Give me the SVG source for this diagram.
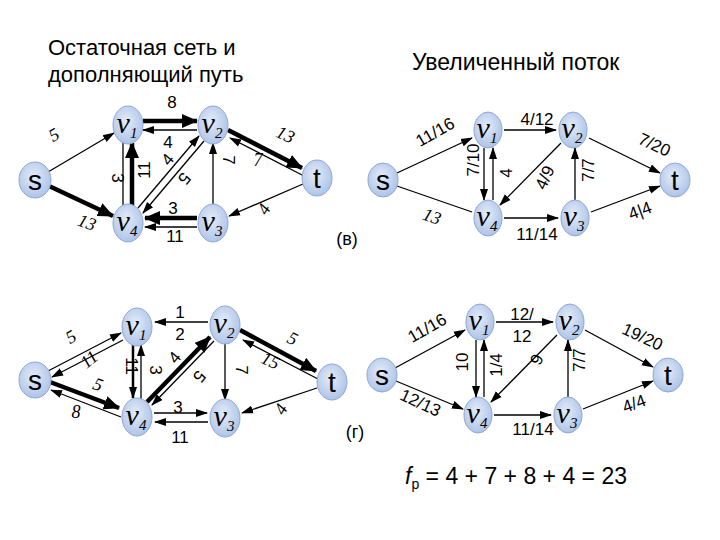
<svg xmlns="http://www.w3.org/2000/svg" width="720" height="540" viewBox="0 0 720 540">
<defs>
<radialGradient id="g" cx="45%" cy="40%" r="65%"><stop offset="0" stop-color="#e4ecf9"/><stop offset="1" stop-color="#a9c0e6"/></radialGradient>
<marker id="a" markerUnits="userSpaceOnUse" markerWidth="12" markerHeight="10" refX="11" refY="5" orient="auto"><path d="M0,1 L12,5 L0,9 Z" fill="#000"/></marker>
<marker id="b" markerUnits="userSpaceOnUse" markerWidth="16" markerHeight="14" refX="15" refY="7" orient="auto"><path d="M0,0 L16,7 L0,14 Z" fill="#000"/></marker>
</defs>
<style>
.n{fill:url(#g);stroke:#8ea8d4;stroke-width:1}
.v{font-family:"Liberation Serif",serif;font-style:italic;font-size:30px;text-anchor:middle}
.v tspan{font-size:15px}
.st{font-family:"Liberation Sans",sans-serif;font-size:28px;text-anchor:middle}
.e line{stroke:#000;stroke-width:1.3}
.e .k{stroke-width:4.5}
.l{font-family:"Liberation Sans",sans-serif;font-size:17px;text-anchor:middle}
.i{font-family:"Liberation Serif",serif;font-style:italic;font-size:18px;text-anchor:middle}
.h{font-family:"Liberation Sans",sans-serif;font-size:22px}
</style>
<text class="h" x="48" y="55">Остаточная сеть и</text>
<text class="h" x="48" y="82">дополняющий путь</text>
<text class="h" x="412" y="70" style="font-size:23px">Увеличенный поток</text>
<text class="l" x="347" y="245" style="font-size:18px">(в)</text>
<text class="l" x="355" y="438" style="font-size:18px">(г)</text>
<text class="h" x="405" y="484" style="font-size:23px"><tspan font-style="italic">f</tspan><tspan font-size="14" dy="5">p</tspan><tspan dy="-5"> = 4 + 7 + 8 + 4 = 23</tspan></text>

<g id="connectors" class="e">
<!-- top-left -->
<line x1="48" y1="172" x2="114" y2="133" marker-end="url(#a)"/>
<line class="k" x1="49" y1="186" x2="113" y2="216" marker-end="url(#b)"/>
<line class="k" x1="143" y1="121" x2="197" y2="121" marker-end="url(#b)"/>
<line x1="197" y1="130" x2="143" y2="130" marker-end="url(#a)"/>
<line x1="123" y1="142" x2="123" y2="206"/>
<line class="k" x1="132" y1="206" x2="132" y2="143" marker-end="url(#b)"/>
<line x1="138" y1="208" x2="199" y2="136" marker-end="url(#a)"/>
<line x1="204" y1="141" x2="143" y2="213" marker-end="url(#a)"/>
<line x1="213" y1="205" x2="213" y2="143" marker-end="url(#a)"/>
<line class="k" x1="228" y1="130" x2="302" y2="168" marker-end="url(#b)"/>
<line x1="304" y1="176" x2="230" y2="138" marker-end="url(#a)"/>
<line x1="303" y1="184" x2="229" y2="216" marker-end="url(#a)"/>
<line class="k" x1="197" y1="218" x2="145" y2="218" marker-end="url(#b)"/>
<line x1="197" y1="227" x2="145" y2="227" marker-end="url(#a)"/>
<!-- top-right -->
<line x1="397" y1="173" x2="472" y2="138" marker-end="url(#a)"/>
<line x1="397" y1="186" x2="472" y2="212"/>
<line x1="504" y1="130" x2="556" y2="130" marker-end="url(#a)"/>
<line x1="484" y1="148" x2="484" y2="200" marker-end="url(#a)"/>
<line x1="493" y1="200" x2="493" y2="148" marker-end="url(#a)"/>
<line x1="561" y1="143" x2="500" y2="205" marker-end="url(#a)"/>
<line x1="575" y1="200" x2="575" y2="148" marker-end="url(#a)"/>
<line x1="589" y1="138" x2="660" y2="173" marker-end="url(#a)"/>
<line x1="504" y1="218" x2="558" y2="218" marker-end="url(#a)"/>
<line x1="591" y1="212" x2="660" y2="186" marker-end="url(#a)"/>
<!-- bottom-left -->
<line x1="48" y1="371" x2="121" y2="333" marker-end="url(#a)"/>
<line x1="123" y1="340" x2="52" y2="377" marker-end="url(#a)"/>
<line class="k" x1="50" y1="382" x2="119" y2="408" marker-end="url(#b)"/>
<line x1="121" y1="417" x2="51" y2="390" marker-end="url(#a)"/>
<line x1="208" y1="322" x2="155" y2="322" marker-end="url(#a)"/>
<line x1="133" y1="345" x2="133" y2="398" style="stroke-width:2.5" marker-end="url(#a)"/>
<line x1="141" y1="400" x2="141" y2="345" marker-end="url(#a)"/>
<line class="k" x1="147" y1="402" x2="210" y2="337" marker-end="url(#b)"/>
<line x1="214" y1="341" x2="152" y2="405" marker-end="url(#a)"/>
<line x1="225" y1="343" x2="225" y2="400" marker-end="url(#a)"/>
<line class="k" x1="240" y1="330" x2="316" y2="371" marker-end="url(#b)"/>
<line x1="318" y1="379" x2="243" y2="340" marker-end="url(#a)"/>
<line x1="317" y1="388" x2="242" y2="413" marker-end="url(#a)"/>
<line x1="154" y1="413" x2="207" y2="413" marker-end="url(#a)"/>
<line x1="208" y1="422" x2="155" y2="422" marker-end="url(#a)"/>
<!-- bottom-right -->
<line x1="395" y1="368" x2="465" y2="330" marker-end="url(#a)"/>
<line x1="396" y1="381" x2="463" y2="409" marker-end="url(#a)"/>
<line x1="496" y1="322" x2="553" y2="322" marker-end="url(#a)"/>
<line x1="476" y1="340" x2="476" y2="397" marker-end="url(#a)"/>
<line x1="484" y1="397" x2="484" y2="340" marker-end="url(#a)"/>
<line x1="557" y1="335" x2="491" y2="402" marker-end="url(#a)"/>
<line x1="568" y1="397" x2="568" y2="340" marker-end="url(#a)"/>
<line x1="585" y1="330" x2="653" y2="367" marker-end="url(#a)"/>
<line x1="494" y1="415" x2="551" y2="415" marker-end="url(#a)"/>
<line x1="583" y1="409" x2="653" y2="381" marker-end="url(#a)"/>
</g>

<g id="edge-labels">
<text class="i" transform="translate(57,140) rotate(-30)">5</text>
<text class="i" transform="translate(85,228) rotate(20)">13</text>
<text class="l" x="172" y="108">8</text>
<text class="l" x="168" y="148">4</text>
<text class="l" transform="translate(112,178) rotate(90)">3</text>
<text class="l" transform="translate(150,170) rotate(-90)">11</text>
<text class="l" transform="translate(172,163) rotate(-50)">4</text>
<text class="l" transform="translate(180,175) rotate(130)">5</text>
<text class="l" transform="translate(223,160) rotate(90)">7</text>
<text class="i" transform="translate(283,140) rotate(25)">13</text>
<text class="i" x="258" y="166">7</text>
<text class="i" transform="translate(269,212) rotate(-60)">4</text>
<text class="l" x="173" y="214">3</text>
<text class="l" x="175" y="242">11</text>

<text class="l" transform="translate(438,137) rotate(-30)">11/16</text>
<text class="i" transform="translate(430,222) rotate(20)">13</text>
<text class="l" x="537" y="125">4/12</text>
<text class="l" transform="translate(479,160) rotate(-90)">7/10</text>
<text class="l" transform="translate(512,173) rotate(-90)">4</text>
<text class="l" transform="translate(550,180) rotate(-65)">4/9</text>
<text class="l" transform="translate(594,170) rotate(-90)">7/7</text>
<text class="l" transform="translate(652,150) rotate(25)">7/20</text>
<text class="l" x="537" y="240">11/14</text>
<text class="l" transform="translate(642,216) rotate(-20)">4|4</text>

<text class="i" transform="translate(74,342) rotate(-30)">5</text>
<text class="i" transform="translate(93,364) rotate(-40)">11</text>
<text class="i" transform="translate(96,390) rotate(20)">5</text>
<text class="i" x="76" y="418">8</text>
<text class="l" x="180" y="318">1</text>
<text class="l" x="180" y="340">2</text>
<text class="l" transform="translate(126,366) rotate(90)">11</text>
<text class="l" transform="translate(150,370) rotate(90)">3</text>
<text class="l" transform="translate(179,361) rotate(-50)">4</text>
<text class="l" transform="translate(195,373) rotate(130)">5</text>
<text class="l" transform="translate(236,370) rotate(90)">7</text>
<text class="i" transform="translate(290,344) rotate(25)">5</text>
<text class="i" transform="translate(268,366) rotate(25)">15</text>
<text class="i" transform="translate(286,412) rotate(-60)">4</text>
<text class="l" x="178" y="413">3</text>
<text class="l" x="180" y="443">11</text>

<text class="l" transform="translate(430,333) rotate(-30)">11/16</text>
<text class="l" transform="translate(418,408) rotate(25)">12/13</text>
<text class="l" x="522" y="320">12/</text>
<text class="l" x="522" y="342">12</text>
<text class="l" transform="translate(468,362) rotate(-90)">10</text>
<text class="l" transform="translate(502,365) rotate(-90)">1/4</text>
<text class="l" transform="translate(542,362) rotate(-65)">9</text>
<text class="l" transform="translate(585,360) rotate(-90)">7/7</text>
<text class="l" transform="translate(640,342) rotate(25)">19/20</text>
<text class="l" x="533" y="435">11/14</text>
<text class="l" transform="translate(636,409) rotate(-20)">4/4</text>
</g>

<g id="tl-s"><ellipse class="n" cx="35" cy="180" rx="16" ry="18"/><text class="st" x="35" y="190">s</text></g>
<g id="tl-v1"><ellipse class="n" cx="128" cy="125" rx="15" ry="19"/><text class="v" x="127" y="133">v<tspan dy="5">1</tspan></text></g>
<g id="tl-v2"><ellipse class="n" cx="213" cy="125" rx="15" ry="19"/><text class="v" x="212" y="133">v<tspan dy="5">2</tspan></text></g>
<g id="tl-t"><ellipse class="n" cx="317" cy="178" rx="15" ry="18"/><text class="st" x="317" y="188">t</text></g>
<g id="tl-v4"><ellipse class="n" cx="128" cy="223" rx="15" ry="19"/><text class="v" x="127" y="231">v<tspan dy="5">4</tspan></text></g>
<g id="tl-v3"><ellipse class="n" cx="213" cy="223" rx="15" ry="19"/><text class="v" x="212" y="231">v<tspan dy="5">3</tspan></text></g>
<g id="tr-s"><ellipse class="n" cx="383" cy="180" rx="15" ry="17"/><text class="st" x="383" y="190">s</text></g>
<g id="tr-v1"><ellipse class="n" cx="488" cy="130" rx="14" ry="18"/><text class="v" x="487" y="138">v<tspan dy="5">1</tspan></text></g>
<g id="tr-v2"><ellipse class="n" cx="573" cy="130" rx="14" ry="18"/><text class="v" x="572" y="138">v<tspan dy="5">2</tspan></text></g>
<g id="tr-t"><ellipse class="n" cx="675" cy="180" rx="15" ry="17"/><text class="st" x="675" y="190">t</text></g>
<g id="tr-v4"><ellipse class="n" cx="488" cy="218" rx="14" ry="18"/><text class="v" x="487" y="226">v<tspan dy="5">4</tspan></text></g>
<g id="tr-v3"><ellipse class="n" cx="575" cy="218" rx="14" ry="18"/><text class="v" x="574" y="226">v<tspan dy="5">3</tspan></text></g>
<g id="bl-s"><ellipse class="n" cx="35" cy="380" rx="16" ry="18"/><text class="st" x="35" y="390">s</text></g>
<g id="bl-v1"><ellipse class="n" cx="137" cy="327" rx="15" ry="19"/><text class="v" x="136" y="335">v<tspan dy="5">1</tspan></text></g>
<g id="bl-v2"><ellipse class="n" cx="225" cy="325" rx="15" ry="19"/><text class="v" x="224" y="333">v<tspan dy="5">2</tspan></text></g>
<g id="bl-t"><ellipse class="n" cx="332" cy="382" rx="15" ry="18"/><text class="st" x="332" y="392">t</text></g>
<g id="bl-v4"><ellipse class="n" cx="137" cy="417" rx="15" ry="19"/><text class="v" x="136" y="425">v<tspan dy="5">4</tspan></text></g>
<g id="bl-v3"><ellipse class="n" cx="225" cy="418" rx="15" ry="19"/><text class="v" x="224" y="426">v<tspan dy="5">3</tspan></text></g>
<g id="br-s"><ellipse class="n" cx="382" cy="375" rx="15" ry="17"/><text class="st" x="382" y="385">s</text></g>
<g id="br-v1"><ellipse class="n" cx="480" cy="322" rx="14" ry="18"/><text class="v" x="479" y="330">v<tspan dy="5">1</tspan></text></g>
<g id="br-v2"><ellipse class="n" cx="570" cy="322" rx="14" ry="18"/><text class="v" x="569" y="330">v<tspan dy="5">2</tspan></text></g>
<g id="br-t"><ellipse class="n" cx="668" cy="375" rx="15" ry="17"/><text class="st" x="668" y="385">t</text></g>
<g id="br-v4"><ellipse class="n" cx="478" cy="415" rx="14" ry="18"/><text class="v" x="477" y="423">v<tspan dy="5">4</tspan></text></g>
<g id="br-v3"><ellipse class="n" cx="568" cy="415" rx="14" ry="18"/><text class="v" x="567" y="423">v<tspan dy="5">3</tspan></text></g>
</svg>
